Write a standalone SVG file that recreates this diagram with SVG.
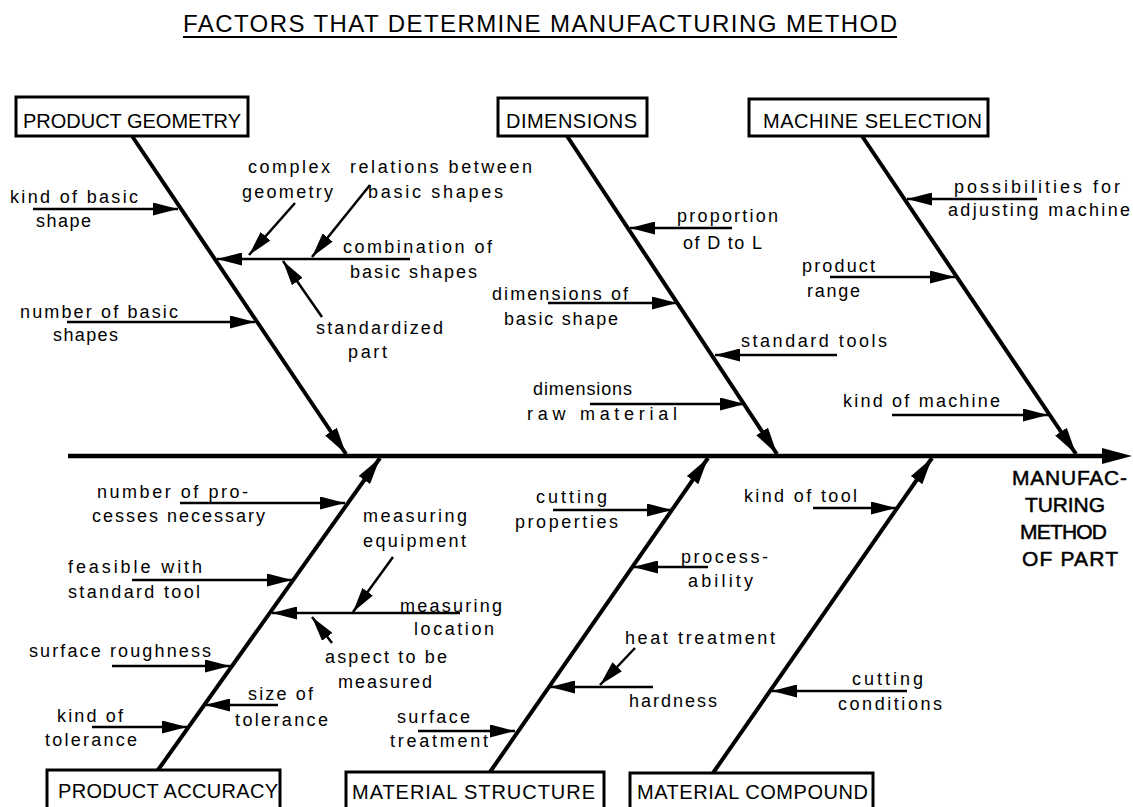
<svg xmlns="http://www.w3.org/2000/svg" width="1133" height="807" viewBox="0 0 1133 807">
<style>
  .t { font-family: "Liberation Sans", Arial, sans-serif; font-size: 18px; fill: #000; }
  .bl { font-family: "Liberation Sans", Arial, sans-serif; font-size: 20px; fill: #000; }
  .ttl { font-family: "Liberation Sans", Arial, sans-serif; font-size: 24px; fill: #000; }
  .res { font-family: "Liberation Sans", Arial, sans-serif; font-size: 21px; fill: #000; stroke: #000; stroke-width: 0.5; }
  .box { fill: #fff; stroke: #000; stroke-width: 3; }
  .bone { stroke: #000; stroke-width: 4; fill: none; marker-end: url(#bh); }
  .sub { stroke: #000; stroke-width: 2.5; fill: none; marker-end: url(#sh); }
</style>
<defs>
  <marker id="sh" markerUnits="userSpaceOnUse" viewBox="0 0 26 13" markerWidth="26" markerHeight="13" refX="25" refY="6.5" orient="auto">
    <path d="M0,0 L25,6.5 L0,13 z" fill="#000"/>
  </marker>
  <marker id="bh" markerUnits="userSpaceOnUse" viewBox="0 0 28 14" markerWidth="28" markerHeight="14" refX="27" refY="7" orient="auto">
    <path d="M0,0 L27,7 L0,14 z" fill="#000"/>
  </marker>
</defs>
<rect width="1133" height="807" fill="#fff"/>

<g id="title">
  <text class="ttl" x="183" y="32" textLength="714">FACTORS THAT DETERMINE MANUFACTURING METHOD</text>
  <line x1="183" y1="37" x2="897" y2="37" stroke="#000" stroke-width="2"/>
</g>

<g id="connectors">
  <line x1="68" y1="456" x2="1106" y2="456" stroke="#000" stroke-width="4.5"/>
  <polygon points="1102,448 1132,456 1102,464" fill="#000"/>
  <line class="bone" x1="132" y1="136" x2="346" y2="454"/>
  <line class="bone" x1="567" y1="136" x2="777" y2="454"/>
  <line class="bone" x1="862" y1="136" x2="1076" y2="454"/>
  <line class="bone" x1="158" y1="770" x2="380" y2="458"/>
  <line class="bone" x1="490" y1="772" x2="708" y2="458"/>
  <line class="bone" x1="713" y1="773" x2="932" y2="458"/>
  <line class="sub" x1="33" y1="209" x2="178" y2="209"/>
  <line class="sub" x1="67" y1="322" x2="255" y2="322"/>
  <line class="sub" x1="410" y1="259" x2="217" y2="259"/>
  <line class="sub" x1="295" y1="203" x2="249" y2="255"/>
  <line class="sub" x1="370" y1="185" x2="312" y2="257"/>
  <line class="sub" x1="322" y1="317" x2="283" y2="261"/>
  <line class="sub" x1="732" y1="228" x2="630" y2="228"/>
  <line class="sub" x1="548" y1="303" x2="677" y2="303"/>
  <line class="sub" x1="837" y1="355" x2="715" y2="355"/>
  <line class="sub" x1="590" y1="404" x2="745" y2="404"/>
  <line class="sub" x1="1037" y1="199" x2="907" y2="199"/>
  <line class="sub" x1="830" y1="277" x2="955" y2="277"/>
  <line class="sub" x1="892" y1="415" x2="1048" y2="415"/>
  <line class="sub" x1="180" y1="503" x2="345" y2="503"/>
  <line class="sub" x1="132" y1="580" x2="292" y2="580"/>
  <line class="sub" x1="460" y1="613" x2="272" y2="613"/>
  <line class="sub" x1="393" y1="557" x2="353" y2="612"/>
  <line class="sub" x1="332" y1="643" x2="312" y2="617"/>
  <line class="sub" x1="112" y1="666" x2="230" y2="666"/>
  <line class="sub" x1="278" y1="705" x2="205" y2="705"/>
  <line class="sub" x1="92" y1="727" x2="187" y2="727"/>
  <line class="sub" x1="553" y1="510" x2="672" y2="510"/>
  <line class="sub" x1="708" y1="567" x2="633" y2="567"/>
  <line class="sub" x1="653" y1="687" x2="550" y2="687"/>
  <line class="sub" x1="635" y1="648" x2="600" y2="685"/>
  <line class="sub" x1="418" y1="731" x2="515" y2="731"/>
  <line class="sub" x1="813" y1="508" x2="896" y2="508"/>
  <line class="sub" x1="907" y1="691" x2="772" y2="691"/>
</g>

<g id="product-geometry">
  <rect class="box" x="16" y="97" width="232" height="39"/>
  <text class="bl" x="23" y="128" textLength="218">PRODUCT GEOMETRY</text>
  <text class="t" x="10" y="203" textLength="128">kind of basic</text>
  <text class="t" x="36" y="227" textLength="55">shape</text>
  <text class="t" x="20" y="318" textLength="158">number of basic</text>
  <text class="t" x="53" y="341" textLength="65">shapes</text>
  <text class="t" x="248" y="173" textLength="82">complex</text>
  <text class="t" x="242" y="198" textLength="91">geometry</text>
  <text class="t" x="350" y="173" textLength="182">relations between</text>
  <text class="t" x="368" y="198" textLength="135">basic shapes</text>
  <text class="t" x="343" y="253" textLength="149">combination of</text>
  <text class="t" x="350" y="278" textLength="127">basic shapes</text>
  <text class="t" x="316" y="334" textLength="127">standardized</text>
  <text class="t" x="348" y="358" textLength="39">part</text>
</g>

<g id="dimensions">
  <rect class="box" x="498" y="98" width="149" height="38"/>
  <text class="bl" x="506" y="128" textLength="131">DIMENSIONS</text>
  <text class="t" x="677" y="222" textLength="101">proportion</text>
  <text class="t" x="683" y="249" textLength="79">of D to L</text>
  <text class="t" x="492" y="300" textLength="136">dimensions of</text>
  <text class="t" x="504" y="325" textLength="114">basic shape</text>
  <text class="t" x="741" y="347" textLength="146">standard tools</text>
  <text class="t" x="533" y="395" textLength="99">dimensions</text>
  <text class="t" x="527" y="420" textLength="150">raw material</text>
</g>

<g id="machine-selection">
  <rect class="box" x="749" y="99" width="239" height="37"/>
  <text class="bl" x="763" y="128" textLength="219">MACHINE SELECTION</text>
  <text class="t" x="954" y="193" textLength="166">possibilities for</text>
  <text class="t" x="948" y="216" textLength="182">adjusting machine</text>
  <text class="t" x="802" y="272" textLength="73">product</text>
  <text class="t" x="807" y="297" textLength="53">range</text>
  <text class="t" x="843" y="407" textLength="157">kind of machine</text>
</g>

<g id="product-accuracy">
  <rect class="box" x="47" y="770" width="233" height="45"/>
  <text class="bl" x="58" y="798" textLength="220">PRODUCT ACCURACY</text>
  <text class="t" x="97" y="498" textLength="151">number of pro-</text>
  <text class="t" x="92" y="522" textLength="173">cesses necessary</text>
  <text class="t" x="68" y="573" textLength="134">feasible with</text>
  <text class="t" x="68" y="598" textLength="132">standard tool</text>
  <text class="t" x="29" y="657" textLength="182">surface roughness</text>
  <text class="t" x="248" y="700" textLength="65">size of</text>
  <text class="t" x="235" y="726" textLength="93">tolerance</text>
  <text class="t" x="57" y="722" textLength="66">kind of</text>
  <text class="t" x="45" y="746" textLength="92">tolerance</text>
  <text class="t" x="363" y="522" textLength="104">measuring</text>
  <text class="t" x="363" y="547" textLength="103">equipment</text>
  <text class="t" x="400" y="612" textLength="102">measuring</text>
  <text class="t" x="414" y="635" textLength="80">location</text>
  <text class="t" x="325" y="663" textLength="122">aspect to be</text>
  <text class="t" x="338" y="688" textLength="94">measured</text>
</g>

<g id="material-structure">
  <rect class="box" x="346" y="772" width="258" height="45"/>
  <text class="bl" x="352" y="799" textLength="243">MATERIAL STRUCTURE</text>
  <text class="t" x="536" y="503" textLength="71">cutting</text>
  <text class="t" x="515" y="528" textLength="103">properties</text>
  <text class="t" x="681" y="563" textLength="87">process-</text>
  <text class="t" x="688" y="587" textLength="65">ability</text>
  <text class="t" x="625" y="644" textLength="150">heat treatment</text>
  <text class="t" x="629" y="707" textLength="88">hardness</text>
  <text class="t" x="397" y="723" textLength="73">surface</text>
  <text class="t" x="390" y="747" textLength="98">treatment</text>
</g>

<g id="material-compound">
  <rect class="box" x="630" y="773" width="243" height="45"/>
  <text class="bl" x="637" y="799" textLength="231">MATERIAL COMPOUND</text>
  <text class="t" x="744" y="502" textLength="113">kind of tool</text>
  <text class="t" x="852" y="685" textLength="71">cutting</text>
  <text class="t" x="838" y="710" textLength="104">conditions</text>
</g>

<g id="result">
  <text class="res" x="1012" y="485" textLength="115">MANUFAC-</text>
  <text class="res" x="1025" y="512" textLength="80">TURING</text>
  <text class="res" x="1020" y="539" textLength="87">METHOD</text>
  <text class="res" x="1022" y="566" textLength="96">OF PART</text>
</g>
</svg>
